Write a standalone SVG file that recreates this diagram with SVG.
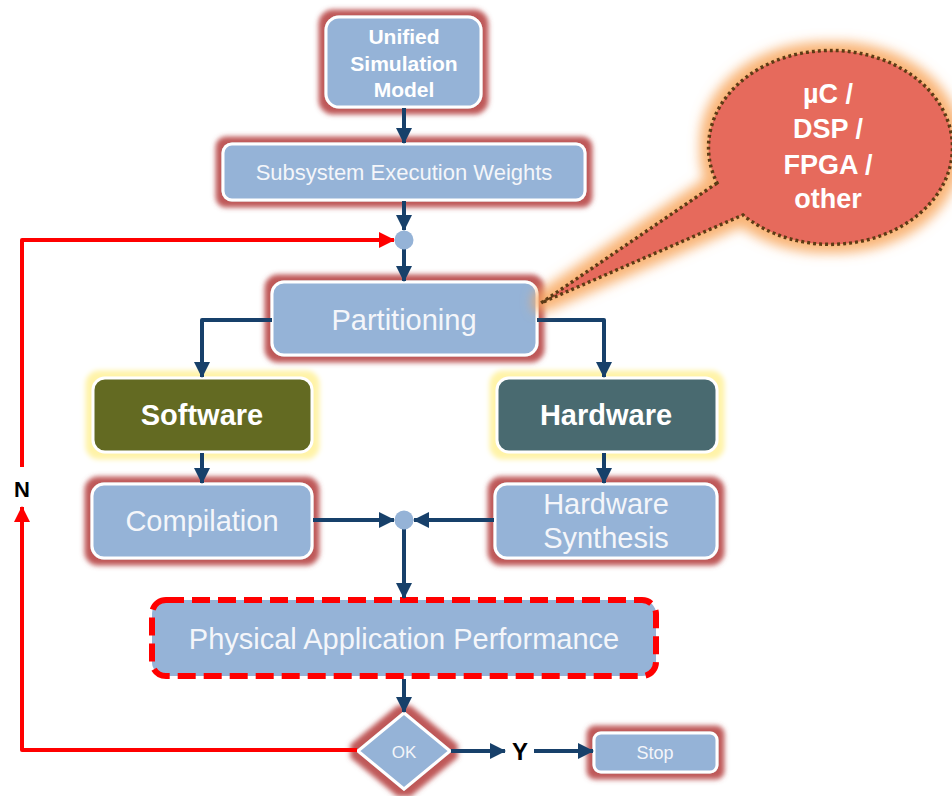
<svg xmlns="http://www.w3.org/2000/svg" width="952" height="796" viewBox="0 0 952 796">
<defs>
<style>
.box{fill:#95b3d7;stroke:#ffffff;stroke-width:3}
.t{font-family:"Liberation Sans",Arial,sans-serif;fill:#f4f6fa;text-anchor:middle}
.tb{font-family:"Liberation Sans",Arial,sans-serif;font-weight:bold;fill:#ffffff;text-anchor:middle}
.lbl{font-family:"Liberation Sans",Arial,sans-serif;font-weight:bold;fill:#000000;text-anchor:middle}
.c{fill:none;stroke:#17406a;stroke-width:4;stroke-linejoin:round}
.r{fill:none;stroke:#ff0000;stroke-width:4;stroke-linejoin:round}
.dot{fill:#95b3d7}
</style>
<filter id="gRed" x="-30%" y="-40%" width="160%" height="180%">
<feMorphology in="SourceAlpha" operator="dilate" radius="6" result="d"/>
<feGaussianBlur in="d" stdDeviation="2.5" result="b"/>
<feFlood flood-color="#b94a4a" flood-opacity="0.92"/>
<feComposite in2="b" operator="in" result="g"/>
<feMerge><feMergeNode in="g"/><feMergeNode in="SourceGraphic"/></feMerge>
</filter>
<filter id="gYel" x="-30%" y="-40%" width="160%" height="180%">
<feMorphology in="SourceAlpha" operator="dilate" radius="6" result="d"/>
<feGaussianBlur in="d" stdDeviation="2.5" result="b"/>
<feFlood flood-color="#fff3a8"/>
<feComposite in2="b" operator="in" result="g"/>
<feMerge><feMergeNode in="g"/><feMergeNode in="SourceGraphic"/></feMerge>
</filter>
<filter id="gOr" x="-30%" y="-30%" width="160%" height="160%">
<feMorphology in="SourceAlpha" operator="dilate" radius="7" result="d"/>
<feGaussianBlur in="d" stdDeviation="6" result="b"/>
<feFlood flood-color="#f8a860" flood-opacity="0.85"/>
<feComposite in2="b" operator="in" result="g"/>
<feMerge><feMergeNode in="g"/><feMergeNode in="SourceGraphic"/></feMerge>
</filter>
<marker id="ah" markerUnits="userSpaceOnUse" markerWidth="16" markerHeight="16" viewBox="0 0 16 16" refX="15" refY="8" orient="auto">
<path d="M0,0 L16,8 L0,16 Z" fill="#17406a"/>
</marker>
<marker id="ahr" markerUnits="userSpaceOnUse" markerWidth="16" markerHeight="16" viewBox="0 0 16 16" refX="15" refY="8" orient="auto">
<path d="M0,0 L16,8 L0,16 Z" fill="#ff0000"/>
</marker>
</defs>

<g id="n-unified">
<rect class="box" x="326" y="17" width="155" height="90" rx="13" filter="url(#gRed)"/>
<text class="tb" font-size="21" x="404" y="44">Unified</text>
<text class="tb" font-size="21" x="404" y="71">Simulation</text>
<text class="tb" font-size="21" x="404" y="97">Model</text>
</g>

<g id="n-weights">
<rect class="box" x="223" y="144" width="362" height="56" rx="9" filter="url(#gRed)"/>
<text class="t" font-size="22" x="404" y="180">Subsystem Execution Weights</text>
</g>

<g id="n-partitioning">
<rect class="box" x="272" y="282" width="265" height="73" rx="12" filter="url(#gRed)"/>
<text class="t" font-size="29" x="404" y="330">Partitioning</text>
</g>

<g id="n-software">
<rect x="93" y="378" width="219" height="74" rx="12" fill="#636b23" stroke="#ffffff" stroke-width="3" filter="url(#gYel)"/>
<text class="tb" font-size="29" x="202" y="425">Software</text>
</g>

<g id="n-hardware">
<rect x="497" y="378" width="220" height="74" rx="12" fill="#4a6b70" stroke="#ffffff" stroke-width="3" filter="url(#gYel)"/>
<text class="tb" font-size="29" x="606" y="425">Hardware</text>
</g>

<g id="n-compilation">
<rect class="box" x="92" y="484" width="220" height="74" rx="12" filter="url(#gRed)"/>
<text class="t" font-size="29" x="202" y="531">Compilation</text>
</g>

<g id="n-hwsynth">
<rect class="box" x="495" y="484" width="222" height="74" rx="12" filter="url(#gRed)"/>
<text class="t" font-size="29" x="606" y="514">Hardware</text>
<text class="t" font-size="29" x="606" y="548">Synthesis</text>
</g>

<g id="n-performance">
<rect x="152" y="600" width="504" height="76" rx="14" fill="#95b3d7" stroke="#ff0000" stroke-width="6" stroke-dasharray="18 8"/>
<text class="t" font-size="29" x="404" y="649">Physical Application Performance</text>
</g>

<g id="n-ok">
<path class="box" d="M404,713 L450,751 L404,789 L358,751 Z" filter="url(#gRed)"/>
<text class="t" font-size="17" x="404" y="758">OK</text>
</g>

<g id="n-stop">
<rect class="box" x="594" y="733" width="123" height="39" rx="7" filter="url(#gRed)"/>
<text class="t" font-size="18" x="655" y="759">Stop</text>
</g>

<g id="connectors">
<line class="c" x1="404" y1="108" x2="404" y2="143" marker-end="url(#ah)"/>
<line class="c" x1="404" y1="201" x2="404" y2="230" marker-end="url(#ah)"/>
<line class="c" x1="404" y1="248" x2="404" y2="281" marker-end="url(#ah)"/>
<path class="c" d="M272,320 L202,320 L202,377" marker-end="url(#ah)"/>
<path class="c" d="M537,320 L604,320 L604,377" marker-end="url(#ah)"/>
<line class="c" x1="202" y1="453" x2="202" y2="483" marker-end="url(#ah)"/>
<line class="c" x1="604" y1="453" x2="604" y2="483" marker-end="url(#ah)"/>
<line class="c" x1="313" y1="520" x2="394" y2="520" marker-end="url(#ah)"/>
<line class="c" x1="494" y1="520" x2="414" y2="520" marker-end="url(#ah)"/>
<line class="c" x1="404" y1="528" x2="404" y2="598" marker-end="url(#ah)"/>
<line class="c" x1="404" y1="679" x2="404" y2="712" marker-end="url(#ah)"/>
<line class="c" x1="451" y1="751" x2="505" y2="751" marker-end="url(#ah)"/>
<line class="c" x1="534" y1="751" x2="593" y2="751" marker-end="url(#ah)"/>
<path class="r" d="M357,750 L22,750 L22,507" marker-end="url(#ahr)"/>
<path class="r" d="M22,467 L22,240 L394,240" marker-end="url(#ahr)"/>
<circle class="dot" cx="404" cy="240" r="9.5"/>
<circle class="dot" cx="404" cy="520" r="9.5"/>
<text class="lbl" font-size="24" x="520" y="760">Y</text>
<text class="lbl" font-size="22" x="22" y="497">N</text>
</g>

<g id="callout">
<path d="M717,183 L541,303 L743,215 A122,97 0 1 0 717,183 Z" fill="#e66a5c" stroke="#5c3b12" stroke-width="3.5" stroke-dasharray="3 3" filter="url(#gOr)"/>
<text class="tb" font-size="27" x="828" y="103">µC /</text>
<text class="tb" font-size="27" x="828" y="138">DSP /</text>
<text class="tb" font-size="27" x="828" y="174">FPGA /</text>
<text class="tb" font-size="27" x="828" y="208">other</text>
</g>
</svg>
